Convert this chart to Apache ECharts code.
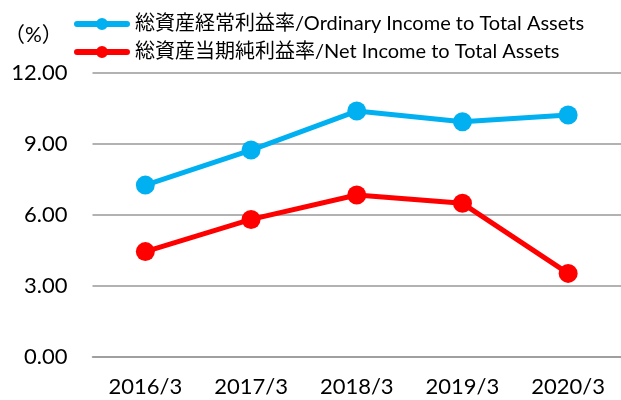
<!DOCTYPE html>
<html>
<head>
<meta charset="utf-8">
<script src="https://cdn.jsdelivr.net/npm/echarts@6/dist/echarts.min.js"></script>
<style>
  html,body{margin:0;padding:0;background:#fff;}
  #main{width:621px;height:400px;}
</style>
</head>
<body>
<div id="main"></div>
<script>
// 年度
const categories = ['2016/3', '2017/3', '2018/3', '2019/3', '2020/3']
// 総資産経常利益率
const ordinaryIncome = [7.25, 8.73, 10.38, 9.93, 10.21]
// 総資産当期純利益率
const netIncome = [4.44, 5.80, 6.83, 6.48, 3.52]
const seriesNames = ['総資産経常利益率/Ordinary Income to Total Assets', '総資産当期純利益率/Net Income to Total Assets']

const font = "Lato, 'Noto Sans CJK JP', sans-serif"
const gridGray = '#999999'
// 凡例アイコン: 太線+丸
const legendIcon = 'path://M3,3 L53,3 A3,3 0 0,1 53,9 L3,9 A3,3 0 0,1 3,3 Z M22,6 A6,6 0 1,1 34,6 A6,6 0 1,1 22,6 Z'

var myChart = echarts.init(document.getElementById('main'))
myChart.setOption({
  animation: false,
  title: {
    text: '（%）',
    left: 4,
    top: 25,
    padding: 0,
    textStyle: {fontFamily: font, fontSize: 21, fontWeight: 'normal', color: '#000'}
  },
  legend: {
    orient: 'vertical',
    left: 74,
    top: 14,
    padding: 0,
    itemWidth: 56,
    itemHeight: 12,
    itemGap: 8,
    textStyle: {fontFamily: font, fontSize: 20, color: '#000', lineHeight: 20},
    data: [
      {name: seriesNames[0], icon: legendIcon},
      {name: seriesNames[1], icon: legendIcon}
    ]
  },
  grid: {
    left: 92.5,
    top: 72.7,
    width: 537,
    height: 284,
    containLabel: false
  },
  xAxis: {
    type: 'category',
    data: categories,
    boundaryGap: true,
    axisLine: {lineStyle: {color: gridGray, width: 1.5}},
    axisTick: {length: 7, lineStyle: {color: gridGray, width: 1.5}},
    axisLabel: {fontFamily: font, fontSize: 22, color: '#000', margin: 19}
  },
  yAxis: {
    type: 'value',
    min: 0,
    max: 12,
    interval: 3,
    axisLine: {show: false},
    axisTick: {show: false},
    axisLabel: {
      fontFamily: font, fontSize: 22, color: '#000', margin: 25,
      formatter: (v) => v.toFixed(2)
    },
    splitLine: {lineStyle: {color: gridGray, width: 1.5}}
  },
  series: [
    {
      name: seriesNames[0],
      type: 'line',
      data: ordinaryIncome,
      symbol: 'circle',
      symbolSize: 19,
      lineStyle: {color: '#00b0f0', width: 5},
      itemStyle: {color: '#00b0f0'}
    },
    {
      name: seriesNames[1],
      type: 'line',
      data: netIncome,
      symbol: 'circle',
      symbolSize: 19,
      lineStyle: {color: '#ff0000', width: 5},
      itemStyle: {color: '#ff0000'}
    }
  ]
})
</script>
</body>
</html>
